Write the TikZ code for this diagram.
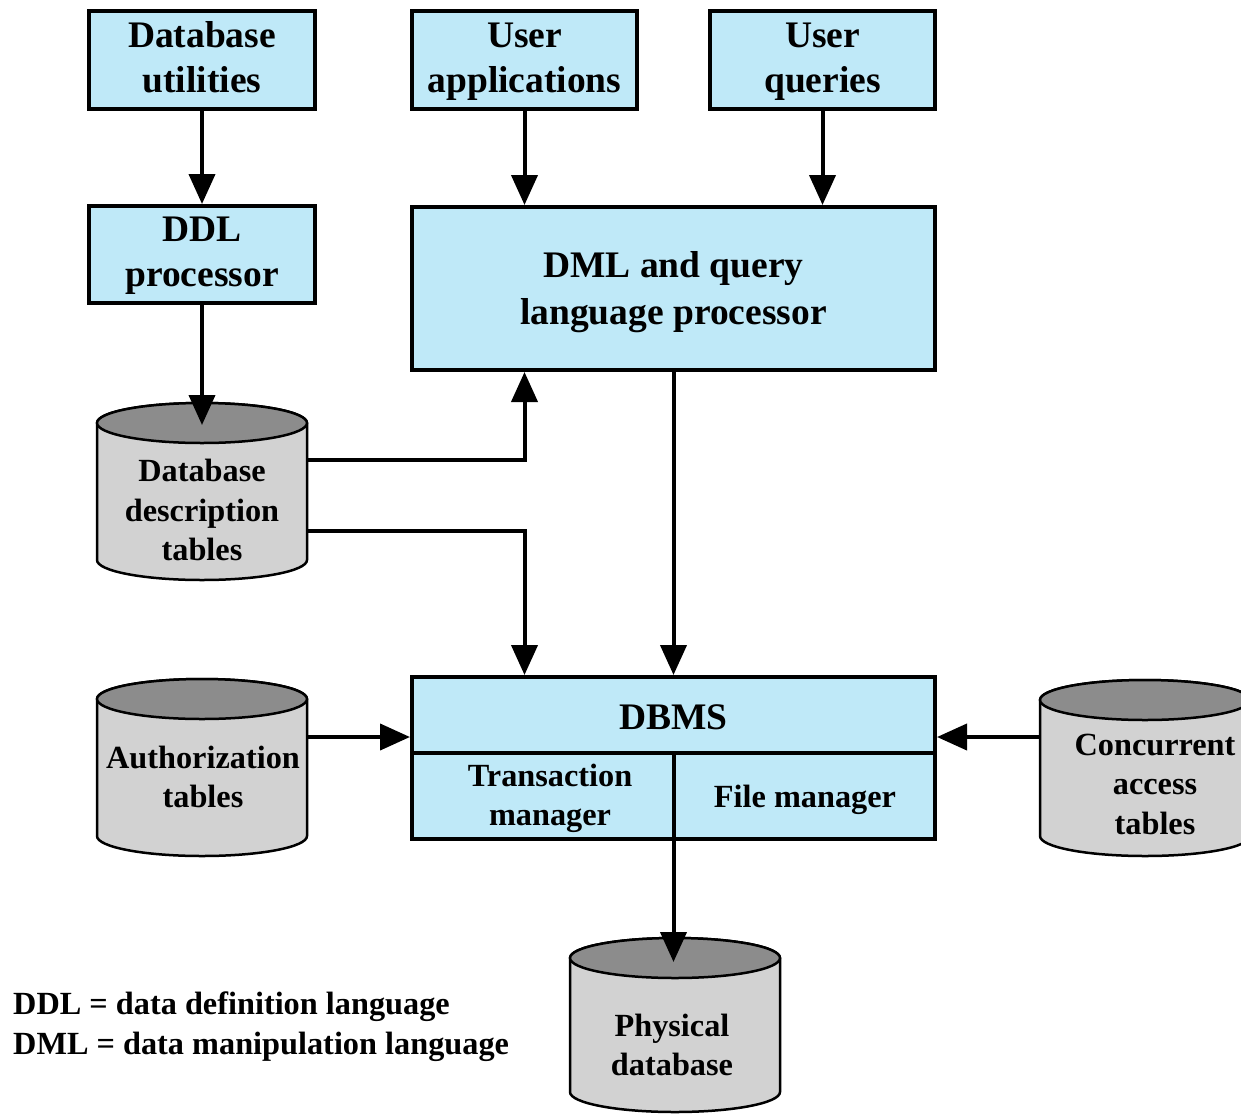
\documentclass[tikz,border=0pt]{standalone}
\usepackage{fontspec}
\setmainfont{Liberation Serif}
\usetikzlibrary{arrows.meta,calc}
\definecolor{boxblue}{RGB}{191,233,248}
\definecolor{cylbody}{RGB}{210,210,210}
\definecolor{cyltop}{RGB}{140,140,140}
\newcommand\myfontbig{\fontsize{37.5}{45}\selectfont\bfseries}
\newcommand\myfontsmall{\fontsize{32.3}{39.5}\selectfont\bfseries}
\newcommand\dbcyl[3]{% left x, top centre y, bottom centre y
  \draw[line width=2.5pt,fill=cylbody] (#1,#2) -- (#1,#3)
    arc[start angle=180,end angle=360,x radius=105pt,y radius=20pt]
    -- ({#1+210},#2)
    arc[start angle=0,end angle=180,x radius=105pt,y radius=20pt] -- cycle;
  \draw[line width=2.5pt,fill=cyltop] ({#1+105},#2) ellipse[x radius=105pt,y radius=20pt];
}
\tikzset{
  bluebox/.style={draw,line width=4pt,fill=boxblue,inner sep=0pt,align=center,font=\myfontbig},
  bigtext/.style={inner sep=0pt,align=center,font=\myfontbig},
  smalltext/.style={inner sep=0pt,align=center,font=\myfontsmall},
  arr/.style={line width=4pt,-{Triangle[length=30pt,width=26pt]}},
  divider/.style={line width=4pt}
}
\begin{document}
\begin{tikzpicture}[x=1pt,y=-1pt]
\useasboundingbox (0,0) rectangle (1241,1114);
\clip (0,0) rectangle (1241,1114);

% boxes
\node[bluebox,minimum width=226pt,minimum height=98pt] (util) at (202,60) {};
\node[bigtext] (utiltext) at (202,57.5) {Database\\utilities};
\node[bluebox,minimum width=225pt,minimum height=98pt] (uapp) at (524.5,60) {};
\node[bigtext] (uapptext) at (524.5,62) {User\\applications};
\node[bluebox,minimum width=225pt,minimum height=98pt] (uq) at (822.5,60) {};
\node[bigtext] (uqtext) at (822.5,62) {User\\queries};
\node[bluebox,minimum width=226pt,minimum height=97pt] (ddl) at (202,254.5) {};
\node[bigtext] (ddltext) at (202,256) {DDL\\processor};
\node[bluebox,minimum width=523pt,minimum height=163pt] (dml) at (673.5,288.5) {};
\node[bigtext] (dmltext) at (673.5,292.5) {DML and query\\[2pt]language processor};

% DBMS
\node[bluebox,minimum width=523pt,minimum height=162pt] (dbms) at (673.5,758) {};
\draw[divider] (412,753) -- (935,753);
\draw[divider] (674,753) -- (674,839);
\node[bigtext] (dbmslbl) at (673.5,717) {DBMS};
\node[smalltext] (tm) at (550,798.5) {Transaction\\manager};
\node[smalltext] (fm) at (805,799.5) {File manager};

% cylinders
\dbcyl{97}{423}{560}
\node[smalltext] (ddt) at (202,510) {Database\\description\\tables};
\dbcyl{97}{699}{836}
\node[smalltext] (auth) at (203,777) {Authorization\\tables};
\dbcyl{1040}{700}{836}
\node[smalltext] (conc) at (1155,784) {Concurrent\\access\\tables};
\dbcyl{570}{958}{1092}
\node[smalltext] (phys) at (672,1045) {Physical\\database};

% coordinates on cylinders
\coordinate (ddttop) at (202,425);
\coordinate (ddtr1) at (307,460);
\coordinate (ddtr2) at (307,531);
\coordinate (authr) at (307,737);
\coordinate (concl) at (1040,737);
\coordinate (phystop) at (673.5,962);

% connectors
\draw[arr] (util.south) -- (ddl.north);
\draw[arr] (uapp.south) -- (uapp.south |- dml.north);
\draw[arr] (uq.south) -- (uq.south |- dml.north);
\draw[arr] (ddl.south) -- (ddttop);
\draw[arr] (ddtr1) -| (uapp.south |- dml.south);
\draw[arr] (ddtr2) -| (uapp.south |- dbms.north);
\draw[arr] (dml.south) -- (dml.south |- dbms.north);
\draw[arr] (authr) -- (authr -| dbms.west);
\draw[arr] (concl) -- (concl -| dbms.east);
\draw[arr] (dbms.south) -- (phystop);

% legend
\node[smalltext,align=left,anchor=west] (legend) at (13,1026.5) {DDL = data definition language\\DML = data manipulation language};
\end{tikzpicture}
\end{document}
